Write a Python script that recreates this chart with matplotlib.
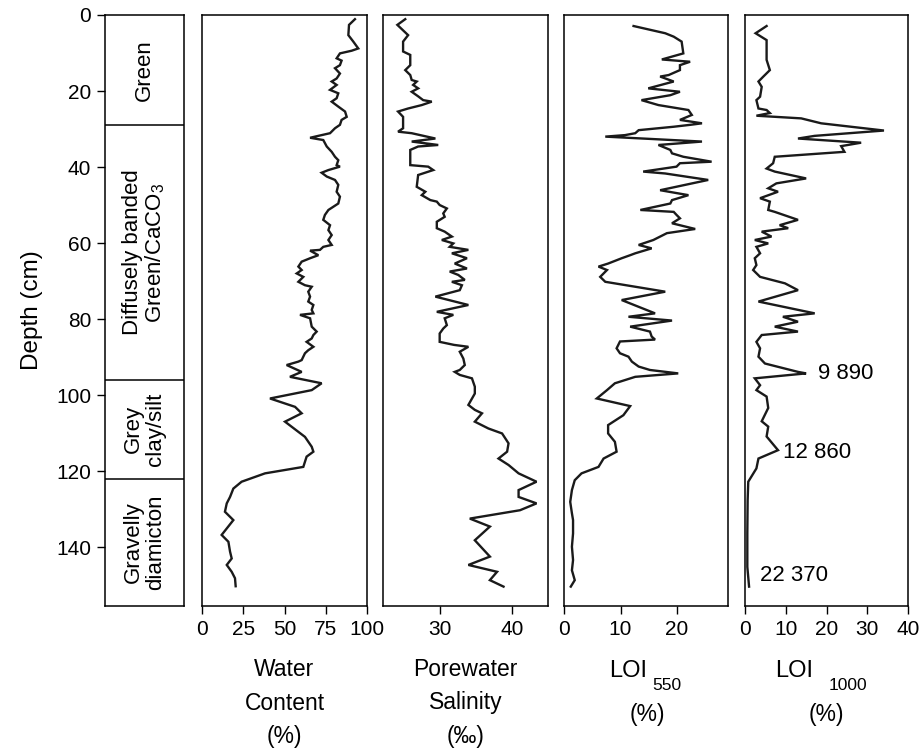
import matplotlib
matplotlib.use("Agg")
import matplotlib.pyplot as plt
from matplotlib import transforms

plt.rcParams["font.family"] = ["Liberation Sans", "DejaVu Sans"]
plt.rcParams["mathtext.fontset"] = "custom"
plt.rcParams["mathtext.rm"] = "Liberation Sans"

# Water content (%) vs depth (cm)
wc_depth = [1.1, 2.6, 5.3, 7.0, 8.8, 9.4, 10.1, 11.4, 12.0, 13.2, 14.0, 15.4, 16.7, 17.5, 18.4,
            19.7, 20.6, 21.9, 22.8, 24.1, 25.4, 26.8, 27.6, 28.9, 29.8, 31.1, 31.8, 32.3, 32.9,
            34.6, 36.0, 37.3, 38.2, 39.5, 39.9, 40.8, 41.5, 42.5, 43.4, 44.7, 46.5, 47.8, 49.6,
            51.3, 52.6, 53.9, 55.3, 56.6, 57.9, 59.2, 60.5, 61.0, 61.8, 62.0, 63.2, 64.0, 64.9,
            66.2, 67.1, 68.0, 68.9, 70.2, 71.1, 71.5, 72.8, 74.1, 75.4, 76.3, 77.6, 78.5, 78.9,
            79.8, 82.0, 83.3, 84.2, 85.1, 86.0, 87.3, 88.2, 89.0, 90.8, 91.2, 92.1, 93.9, 95.2,
            96.9, 98.7, 100.9, 103.1, 104.8, 107.0, 111.0, 113.6, 114.9, 116.2, 118.9, 120.6,
            122.8, 124.6, 126.8, 128.5, 130.7, 132.9, 136.8, 138.6, 141.2, 143.0, 144.7, 146.5,
            148.2, 150.3]
wc = [92.7, 89.1, 88.7, 91.7, 94.7, 90.7, 83.6, 81.6, 84.6, 83.6, 80.6, 83.6, 81.6, 78.6, 81.6,
      77.6, 82.6, 81.6, 78.6, 82.6, 86.7, 87.7, 84.6, 83.6, 80.6, 77.6, 70.5, 65.5, 73.5,
      75.6, 78.6, 80.6, 82.6, 81.6, 83.6, 76.6, 72.5, 75.6, 80.6, 82.6, 81.6, 83.6, 82.6,
      76.6, 74.5, 73.5, 77.6, 76.6, 78.6, 76.6, 78.6, 73.5, 71.5, 65.5, 70.5, 65.5, 60.4,
      58.4, 60.4, 57.4, 61.4, 58.4, 62.4, 66.5, 64.4, 65.5, 64.4, 67.5, 66.5, 67.5, 59.4,
      65.5, 66.5, 69.5, 67.5, 66.5, 63.4, 67.5, 64.4, 62.4, 60.4, 58.4, 51.3, 60.4, 53.3,
      72.5, 66.5, 41.2, 56.4, 60.4, 50.3, 62.4, 66.5, 67.5, 63.4, 61.4, 38.2,
      24.0, 19.0, 17.0, 15.0, 13.9, 19.0, 11.9, 16.0, 17.0, 18.0, 15.0, 18.0,
      20.0, 20.4]

# Porewater salinity (permil)
sal_depth = [1.1, 2.6, 5.3, 7.0, 9.6, 10.5, 13.2, 14.5, 15.8, 17.1, 17.5, 18.4, 19.3, 20.2, 21.4,
             22.4, 22.8, 23.7, 24.6, 25.4, 26.8, 29.8, 30.7, 31.1, 32.5, 33.3, 34.2, 34.6, 35.5,
             39.5, 39.9, 40.8, 42.1, 45.2, 46.5, 47.4, 48.7, 49.1, 50.0, 50.9, 52.2, 53.1, 54.4,
             56.1, 57.0, 58.3, 59.2, 60.1, 61.0, 61.8, 62.7, 64.0, 65.4, 66.7, 67.5, 68.4, 69.7,
             70.2, 71.1, 72.4, 74.1, 76.3, 78.1, 78.9, 79.8, 81.6, 82.5, 83.8, 86.0, 86.8, 87.3,
             88.6, 90.4, 92.1, 93.4, 93.9, 94.7, 95.6, 97.8, 99.6, 102.6, 103.9, 104.8, 107.0,
             108.8, 110.1, 112.7, 114.9, 116.7, 118.4, 120.6, 122.8, 125.0, 126.8, 128.5, 130.3,
             132.5, 134.6, 138.2, 142.5, 144.7, 146.5, 148.7, 150.4]
sal = [25.1, 24.0, 25.5, 24.8, 24.8, 25.8, 25.8, 25.1, 25.8, 26.0, 26.7, 26.2, 26.9, 26.0, 26.9,
       27.6, 28.8, 27.4, 25.5, 24.1, 24.8, 24.8, 24.1, 26.0, 29.3, 26.0, 29.7, 26.9, 25.8,
       25.8, 28.3, 29.0, 26.9, 26.7, 27.9, 27.4, 28.6, 29.5, 29.9, 30.9, 30.4, 30.6, 29.5,
       29.5, 30.6, 31.6, 30.2, 31.8, 31.3, 33.9, 31.6, 33.7, 32.0, 33.7, 31.3, 32.5, 33.4,
       31.6, 33.0, 32.7, 29.3, 33.9, 29.5, 31.8, 30.6, 30.9, 30.4, 29.9, 29.9, 31.9, 33.9,
       32.7, 33.2, 33.4, 32.7, 32.0, 32.7, 34.4, 34.8, 34.8, 33.9, 34.8, 35.8, 34.8,
       36.7, 38.6, 39.5, 39.3, 38.1, 39.5, 40.9, 43.4, 40.9, 40.9, 43.4, 41.1,
       34.1, 36.9, 34.8, 36.9, 33.9, 37.9, 36.9, 38.8]

# LOI 550 (%)
loi550_depth = [2.9, 4.8, 5.7, 7.0, 10.1, 11.7, 12.3, 13.2, 14.5, 15.8, 16.2, 17.5, 19.3, 20.2,
                21.1, 22.4, 23.7, 25.0, 26.3, 27.6, 28.5, 28.9, 29.4, 30.3, 31.1, 31.6, 32.0,
                33.3, 34.2, 35.5, 36.4, 37.3, 38.6, 39.0, 39.9, 41.2, 41.7, 43.4, 46.1, 47.4,
                48.7, 49.6, 51.3, 51.8, 52.6, 53.5, 54.8, 56.3, 57.4, 59.2, 60.5, 61.4, 62.7,
                63.2, 64.0, 65.4, 66.2, 67.1, 68.9, 70.2, 72.8, 75.0, 78.5, 79.4, 80.4, 82.0,
                83.3, 84.6, 85.4, 85.9, 87.7, 89.0, 89.9, 91.2, 92.5, 93.4, 94.3, 95.2, 96.9,
                98.7, 100.9, 102.9, 105.3, 107.9, 110.1, 112.3, 114.9, 116.7, 118.9, 120.6,
                122.4, 125.0, 128.1, 131.1, 132.9, 136.4, 139.9, 143.4, 146.1, 148.7, 150.4]
loi550 = [12.3, 17.9, 19.4, 20.8, 21.1, 17.3, 22.3, 20.5, 20.5, 18.5, 17.0, 19.4, 14.9, 20.5,
          18.8, 13.7, 16.7, 22.0, 22.6, 20.5, 24.4, 22.3, 19.4, 13.2, 12.6, 10.8, 7.3,
          24.4, 16.7, 18.8, 19.1, 21.1, 26.1, 20.5, 19.9, 14.0, 17.9, 25.5, 17.0, 22.0,
          19.1, 18.8, 13.5, 19.4, 19.9, 20.5, 19.1, 23.2, 18.2, 15.8, 13.2, 15.5, 12.6,
          11.7, 10.2, 7.8, 6.1, 7.6, 6.4, 7.3, 17.9, 10.2, 16.1, 11.4, 19.1, 11.7,
          15.2, 15.5, 16.1, 9.9, 9.3, 9.9, 11.4, 12.0, 13.2, 15.2, 20.2, 12.6, 9.0,
          7.6, 5.8, 11.7, 10.5, 7.8, 7.8, 9.0, 9.3, 7.0, 6.1, 3.1,
          1.9, 1.4, 1.1, 1.4, 1.6, 1.6, 1.4, 1.6, 1.4, 1.9, 1.2]

# LOI 1000 (%)
loi1000_depth = [2.9, 4.8, 6.6, 11.8, 14.5, 16.2, 17.5, 18.9, 21.5, 22.4, 24.6, 25.0, 25.8,
                 26.5, 27.2, 28.5, 30.4, 31.8, 32.5, 33.6, 34.5, 36.0, 37.3, 39.0, 40.4, 41.2,
                 43.0, 44.3, 45.6, 46.5, 48.2, 49.1, 51.3, 51.8, 53.9, 55.3, 56.1, 57.0, 58.3,
                 59.2, 60.1, 61.0, 62.7, 64.0, 65.8, 67.1, 68.9, 70.6, 72.4, 75.4, 78.5, 79.4,
                 80.7, 82.0, 83.3, 84.2, 86.0, 87.7, 89.9, 91.7, 93.9, 94.3, 95.6, 97.4, 98.7,
                 100.4, 103.4, 106.9, 108.3, 110.9, 114.5, 116.7, 119.3, 122.8, 127.6, 136.4,
                 145.2, 150.4]
loi1000 = [5.3, 2.6, 5.3, 5.3, 6.1, 4.5, 3.3, 4.1, 3.7, 2.8, 3.3, 5.3, 6.1,
           2.8, 13.8, 18.7, 34.1, 17.1, 13.0, 28.5, 23.6, 24.4, 7.3, 6.9, 5.3, 7.3,
           15.0, 7.7, 5.7, 8.1, 3.7, 6.1, 5.7, 7.3, 13.0, 8.5, 10.6, 4.1, 6.5,
           2.4, 5.7, 2.8, 3.7, 2.4, 2.8, 2.0, 3.7, 9.8, 13.0, 3.3, 17.1, 9.3,
           13.0, 7.3, 13.0, 4.1, 2.8, 3.7, 3.3, 4.9, 13.0, 15.0, 2.4, 3.7, 2.8,
           5.3, 5.7, 4.1, 5.7, 5.3, 8.1, 3.3, 2.8, 0.8, 0.65, 0.57,
           0.57, 1.0]

# radiocarbon ages annotated on the LOI 1000 panel
age_labels = ["9 890", "12 860", "22 370"]
age_depths = [94.3, 115.0, 147.4]
age_x = [17.8, 9.3, 3.7]

# lithology
litho_bounds = [0, 29, 96, 122, 155.5]
litho_names = ["Green", "Diffusely banded\nGreen/CaCO$_\\mathregular{3}$",
               "Grey\nclay/silt", "Gravelly\ndiamicton"]

W, H = 921, 750
top_px, bot_px = 15, 606
fs = 15
fs_lab = 16.5
lw_frame = 1.1
lw_data = 1.7


def add_panel(x0, x1):
    ax = fig.add_axes([x0 / W, 1 - bot_px / H, (x1 - x0) / W, (bot_px - top_px) / H])
    for s in ax.spines.values():
        s.set_linewidth(lw_frame)
    ax.set_ylim(litho_bounds[-1], 0)
    ax.tick_params(direction="out", length=6, width=1, labelsize=fs, pad=4)
    return ax


fig = plt.figure(figsize=(W / 100, H / 100), dpi=100)

# lithology column
ax0 = add_panel(105, 184)
ax0.set_xticks([])
ax0.set_xlim(0, 1)
ax0.set_yticks(range(0, 141, 20))
ax0.set_ylabel("Depth (cm)", fontsize=17.5, labelpad=9)
for b in litho_bounds[1:-1]:
    ax0.axhline(b, color="k", lw=lw_frame)
for i, name in enumerate(litho_names):
    mid = (litho_bounds[i] + litho_bounds[i + 1]) / 2
    ax0.text(0.5, mid, name, rotation=90, ha="center", va="center",
             fontsize=16, multialignment="center", linespacing=1.05)

# x0, x1, depth, values, xlim, xticks, label lines, subscript, (LOI right, sub left, (%) centre)
panels = [
    (202, 367, wc_depth, wc, (0, 100), [0, 25, 50, 75, 100], ["Water", "Content", "(%)"], None, None),
    (383, 548, sal_depth, sal, (22, 45), [30, 40], ["Porewater", "Salinity", "(\u2030)"], None, None),
    (564, 728, loi550_depth, loi550, (0, 29), [0, 10, 20], ["LOI", "(%)"], "550", (0.505, 0.54, 0.51)),
    (745, 908, loi1000_depth, loi1000, (0, 40), [0, 10, 20, 30, 40], ["LOI", "(%)"], "1000", (0.42, 0.515, 0.497)),
]

axes = []
for x0, x1, d, v, xl, xt, lab, sub, pos in panels:
    ax = add_panel(x0, x1)
    ax.plot(v, d, color="#1a1a1a", lw=lw_data, solid_joinstyle="miter")
    ax.set_xlim(*xl)
    ax.set_xticks(xt)
    ax.set_yticks([])
    tr = transforms.blended_transform_factory(ax.transAxes, fig.transFigure)
    if sub is None:
        for j, line in enumerate(lab):
            ax.text(0.5, 1 - (669 + 34 * j) / H, line, transform=tr,
                    ha="center", va="center", fontsize=fs_lab)
    else:
        ax.text(pos[0], 1 - 671 / H, lab[0], transform=tr, ha="right", va="center",
                fontsize=fs_lab + 0.5)
        ax.text(pos[1], 1 - 686 / H, sub, transform=tr, ha="left", va="center",
                fontsize=12.5)
        ax.text(pos[2], 1 - 715 / H, lab[1], transform=tr, ha="center", va="center",
                fontsize=fs_lab)
    axes.append(ax)

ax_loi = axes[-1]
for txt, dd, xx in zip(age_labels, age_depths, age_x):
    ax_loi.text(xx, dd, txt, ha="left", va="center", fontsize=16)

fig.savefig("out.png", dpi=100)
